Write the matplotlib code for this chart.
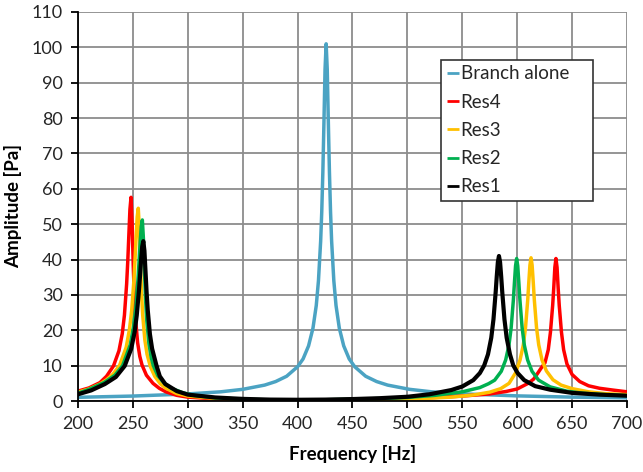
import matplotlib
matplotlib.use("Agg")
import matplotlib.pyplot as plt

plt.rcParams['font.family'] = ['Lato', 'DejaVu Sans']

# ---- Branch alone ----
branch_freq = [200, 250, 300, 330, 350, 370, 380, 390, 400, 405,
               410, 414, 417, 419, 421, 422, 423, 424, 425, 426,
               427, 428, 429, 430, 431, 433, 435, 438, 442, 447,
               452, 462, 472, 482, 502, 522, 552, 600, 650, 700]
branch_amp = [1.05, 1.4, 2.0, 2.6, 3.3, 4.5, 5.5, 7.0, 9.7, 11.9,
              15.6, 20.6, 27.0, 34.0, 45.2, 53.5, 64.7, 78.8, 93.8, 101,
              93.8, 78.8, 64.7, 53.5, 45.2, 34.0, 27.0, 20.6, 15.6, 11.9,
              9.7, 7.0, 5.5, 4.5, 3.3, 2.6, 2.0, 1.45, 1.1, 0.9]

# ---- Res4 ----
res4_freq = [200, 210, 220, 226, 232.3, 237.3, 240.3, 242.3, 244.3, 245.3,
             246.3, 247.3, 248.3, 249.3, 250.3, 251.3, 252.3, 254.3, 256.3, 258.3,
             262.3, 268.3, 274, 280, 290, 300, 325, 350, 375, 400,
             425, 450, 475, 500, 525, 550, 575, 590, 600, 610,
             615, 619, 622, 625.3, 628.3, 630.3, 632.3, 633.3, 634.3, 635.3,
             636.3, 637.3, 638.3, 640.3, 642.3, 645.3, 650, 657, 665, 675,
             687, 700]
res4_amp = [2.8, 3.7, 5.2, 7.0, 9.9, 14.2, 19.0, 24.3, 33.1, 39.3,
            46.8, 54.2, 57.6, 50.3, 38.5, 29.6, 23.6, 16.5, 12.6, 10.2,
            7.3, 5.0, 3.6, 2.6, 1.6, 1.1, 0.6, 0.4, 0.3, 0.25,
            0.3, 0.4, 0.55, 0.75, 1.0, 1.4, 2.0, 2.7, 3.4, 5.0,
            6.2, 8.0, 9.4, 10.8, 14.5, 19.5, 27.0, 32.0, 37.8, 40.3,
            37.8, 32.0, 27.0, 19.5, 14.5, 10.5, 7.5, 5.5, 4.3, 3.6,
            3.1, 2.6]

# ---- Res3 ----
res3_freq = [200, 210, 220, 226, 231.9, 237.9, 243.9, 246.9, 248.9, 250.9,
             251.9, 252.9, 253.9, 254.9, 255.9, 256.9, 257.9, 258.9, 260.9, 262.9,
             265.9, 269.9, 274.9, 280, 290, 300, 325, 350, 375, 400,
             425, 450, 475, 500, 520, 540, 560, 575, 585, 592.6,
             598.6, 602.6, 605.6, 607.6, 609.6, 610.6, 611.6, 612.6, 613.6, 614.6,
             615.6, 617.6, 619.6, 622.6, 626.6, 632.6, 640, 650, 665, 680,
             700]
res3_amp = [2.5, 3.4, 4.8, 6.0, 7.6, 10.1, 15.2, 20.3, 25.6, 34.0,
            39.8, 46.2, 52.0, 54.5, 48.7, 38.5, 30.3, 24.4, 17.2, 13.2,
            9.75, 7.0, 4.9, 3.6, 2.1, 1.4, 0.75, 0.4, 0.25, 0.2,
            0.22, 0.3, 0.4, 0.55, 0.8, 1.1, 1.7, 2.5, 3.5, 5.0,
            8.0, 11.6, 15.9, 20.8, 28.6, 33.7, 38.4, 40.5, 38.4, 33.7,
            28.6, 20.8, 15.9, 11.6, 8.5, 6.0, 4.5, 3.5, 2.6, 2.1,
            1.8]

# ---- Res2 ----
res2_freq = [200, 210, 223.6, 233.6, 240.6, 247.6, 250.6, 252.6, 254.6, 255.6,
             256.6, 257.6, 258.6, 259.6, 260.6, 261.6, 262.6, 264.6, 266.6, 268.6,
             272.6, 278.6, 285, 295, 305, 325, 350, 375, 400, 425,
             450, 475, 500, 525, 550, 566, 574, 579.5, 585.5, 589.5,
             592.5, 594.5, 596.5, 597.5, 598.5, 599.5, 600.5, 601.5, 602.5, 604.5,
             606.5, 609.5, 613.5, 619.5, 630, 645, 660, 680, 700]
res2_amp = [2.2, 3.3, 5.2, 7.3, 10.0, 15.9, 21.0, 26.3, 34.2, 39.4,
            44.8, 49.3, 51.2, 45.8, 36.2, 28.4, 22.9, 16.2, 12.4, 10.0,
            7.2, 5.0, 3.6, 2.4, 1.6, 0.9, 0.5, 0.32, 0.3, 0.35,
            0.5, 0.7, 1.0, 1.6, 2.6, 3.8, 4.9, 5.9, 8.4, 11.6,
            15.8, 20.7, 28.5, 33.5, 38.2, 40.3, 38.2, 33.5, 28.5, 20.7,
            15.8, 11.6, 8.4, 5.9, 4.0, 2.8, 2.2, 1.8, 1.5]

# ---- Res1 ----
res1_freq = [200, 212, 224.5, 234.5, 242.5, 248.5, 251.5, 253.5, 255.5, 256.5,
             257.5, 258.5, 259.5, 260.5, 261.5, 262.5, 263.5, 265.5, 267.5, 271.5,
             274.5, 279.5, 290, 300, 325, 350, 375, 400, 425, 450,
             475, 500, 520, 540, 550, 560, 566, 570, 573.4, 576.4,
             578.4, 580.4, 581.4, 582.4, 583.4, 584.4, 585.4, 586.4, 588.4, 590.4,
             593.4, 596.4, 600.4, 606.4, 616.4, 630, 650, 675, 700]
res1_amp = [1.9, 3.0, 4.8, 6.8, 9.9, 14.8, 19.4, 24.2, 31.2, 35.4,
            40.0, 43.7, 45.2, 42.5, 36.6, 30.7, 25.8, 18.9, 14.8, 10.0,
            7.0, 4.8, 2.8, 1.8, 1.0, 0.6, 0.4, 0.35, 0.4, 0.55,
            0.8, 1.2, 1.9, 3.1, 4.1, 5.9, 7.9, 10.1, 13.2, 17.9,
            23.1, 30.8, 35.3, 39.3, 41.0, 39.3, 35.3, 30.8, 23.1, 17.9,
            13.2, 10.1, 7.9, 5.9, 4.2, 3.2, 2.3, 1.8, 1.5]

series_labels = ["Branch alone", "Res4", "Res3", "Res2", "Res1"]
series_colors = ["#4BA3C3", "#FF0000", "#FFC000", "#00B050", "#000000"]
series_widths = [2.5, 2.5, 2.5, 2.5, 3.0]

x_ticks = list(range(200, 701, 50))
y_ticks = list(range(0, 111, 10))

fig = plt.figure(figsize=(6.43, 4.72), dpi=100)
ax = fig.add_axes([0.1213, 0.1504, 0.8538, 0.8242])

curves = [(branch_freq, branch_amp), (res4_freq, res4_amp), (res3_freq, res3_amp),
          (res2_freq, res2_amp), (res1_freq, res1_amp)]
for (fx, fy), lab, col, lw in zip(curves, series_labels, series_colors, series_widths):
    ax.plot(fx, fy, color=col, lw=lw, label=lab, solid_joinstyle='round',
            solid_capstyle='round', zorder=3)

ax.set_xlim(200, 700)
ax.set_ylim(0, 110)
ax.set_xticks(x_ticks)
ax.set_yticks(y_ticks)
ax.grid(True, color="#8C8C8C", lw=1.3, zorder=0)
ax.set_axisbelow(True)
for s in ("top", "right"):
    ax.spines[s].set_visible(False)
for s in ("left", "bottom"):
    ax.spines[s].set_color("black")
    ax.spines[s].set_linewidth(1.3)
    ax.spines[s].set_zorder(4)
ax.tick_params(axis="both", direction="out", length=5, width=1.3,
               labelsize=13, colors="black", labelcolor="#262626")
ax.tick_params(axis="x", pad=6)
ax.tick_params(axis="y", pad=6)

ax.set_xlabel("Frequency [Hz]", fontsize=13.5, fontweight="bold", labelpad=9)
ax.set_ylabel("Amplitude [Pa]", fontsize=13.5, fontweight="bold", labelpad=7)

leg = ax.legend(loc="upper left", bbox_to_anchor=(0.661, 0.517, 0.277, 0.36),
                mode="expand", fontsize=13.5, handlelength=0.65, handletextpad=0.1,
                labelspacing=0.6, borderpad=0.3, frameon=True, fancybox=False,
                borderaxespad=0.0)
leg.get_frame().set_edgecolor("#333333")
leg.get_frame().set_linewidth(1.2)
leg.get_frame().set_alpha(1)
for ln in leg.get_lines():
    ln.set_linewidth(2.0)
    ln.set_solid_capstyle("butt")
for t in leg.get_texts():
    t.set_color("#262626")

fig.savefig("out.png", dpi=100)
